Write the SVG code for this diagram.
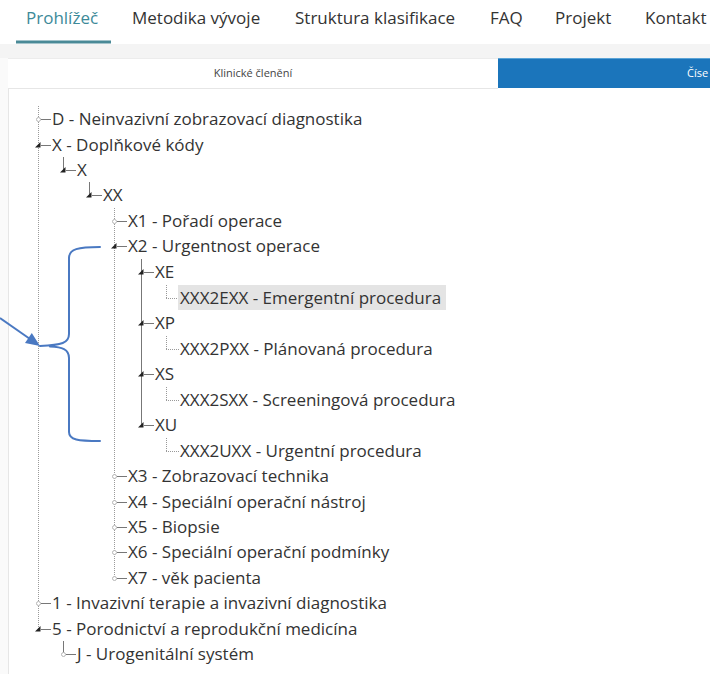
<svg xmlns="http://www.w3.org/2000/svg" width="710" height="674" viewBox="0 0 710 674">
<style>
.nav{font-family:"Open Sans","Liberation Sans",sans-serif;font-size:17px;fill:#333}
.tab{font-family:"Open Sans","Liberation Sans",sans-serif;font-size:11px;fill:#444}
.t{font-family:"Open Sans","Liberation Sans",sans-serif;font-size:17px;fill:#333}
.guide{stroke:#9a9a9a;stroke-width:1;stroke-dasharray:1 1;fill:none}
.solid{stroke:#777;stroke-width:1;fill:none}
.h{stroke:#777;stroke-width:1}
.hd{stroke:#999;stroke-width:1;stroke-dasharray:1 1}
.leaf{fill:#fff;stroke:#b5b5b5;stroke-width:1}
.tri{fill:#222}
.brace{stroke:#4a79c2;stroke-width:2;fill:none;stroke-linecap:round}
</style>
<rect width="710" height="674" fill="#fff"/>
<g id="nav">
<text class="nav" x="26" y="24" style="fill:#3d8a99">Prohlížeč</text>
<text class="nav" x="132" y="24">Metodika vývoje</text>
<text class="nav" x="295" y="24">Struktura klasifikace</text>
<text class="nav" x="490" y="24">FAQ</text>
<text class="nav" x="555" y="24">Projekt</text>
<text class="nav" x="645" y="24">Kontakt</text>
<rect x="16" y="40.5" width="95" height="3" fill="#4a8a97"/>
</g>
<rect x="0" y="44" width="710" height="14" fill="#f4f4f4"/>
<rect x="0" y="58" width="8" height="616" fill="#fafafa"/>
<line x1="8.5" y1="58" x2="8.5" y2="674" stroke="#e6e6e6"/>
<g id="tabs">
<rect x="8" y="58" width="490" height="30" fill="#fff"/>
<line x1="8" y1="58.5" x2="498" y2="58.5" stroke="#ececec"/>
<line x1="8" y1="88.5" x2="498" y2="88.5" stroke="#e6e6e6"/>
<text class="tab" x="253" y="77" text-anchor="middle">Klinické členění</text>
<rect x="498" y="58" width="212" height="30" fill="#1b75bb"/>
<line x1="498" y1="58.5" x2="710" y2="58.5" stroke="#5aa3d6"/>
<text class="tab" x="687" y="77" style="fill:#fff">Číse</text>
</g>
<g id="connectors">
<line class="guide" x1="38.5" y1="106" x2="38.5" y2="629"/>
<line class="guide" x1="114.5" y1="208" x2="114.5" y2="578"/>
<line class="solid" x1="141.5" y1="259" x2="141.5" y2="425"/>
<line class="solid" x1="63.5" y1="157" x2="63.5" y2="170"/>
<line class="solid" x1="89.5" y1="182" x2="89.5" y2="195"/>
<line class="solid" x1="63.5" y1="641" x2="63.5" y2="654"/>
<line class="hd" x1="166.5" y1="285" x2="166.5" y2="298"/>
<line class="hd" x1="166.5" y1="336" x2="166.5" y2="349"/>
<line class="hd" x1="166.5" y1="387" x2="166.5" y2="400"/>
<line class="hd" x1="166.5" y1="438" x2="166.5" y2="451"/>
<line class="hd" x1="166" y1="298.5" x2="179" y2="298.5"/>
<line class="hd" x1="166" y1="349.5" x2="179" y2="349.5"/>
<line class="hd" x1="166" y1="400.5" x2="179" y2="400.5"/>
<line class="hd" x1="166" y1="451.5" x2="179" y2="451.5"/>
<g class="h">
<line x1="41" y1="119.5" x2="51" y2="119.5"/>
<line x1="41" y1="145.5" x2="51" y2="145.5"/>
<line x1="66" y1="170.5" x2="76" y2="170.5"/>
<line x1="92" y1="195.5" x2="102" y2="195.5"/>
<line x1="117" y1="221.5" x2="127" y2="221.5"/>
<line x1="117" y1="246.5" x2="127" y2="246.5"/>
<line x1="144" y1="272.5" x2="154" y2="272.5"/>
<line x1="144" y1="323.5" x2="154" y2="323.5"/>
<line x1="144" y1="374.5" x2="154" y2="374.5"/>
<line x1="144" y1="425.5" x2="154" y2="425.5"/>
<line x1="117" y1="476.5" x2="127" y2="476.5"/>
<line x1="117" y1="502.5" x2="127" y2="502.5"/>
<line x1="117" y1="527.5" x2="127" y2="527.5"/>
<line x1="117" y1="552.5" x2="127" y2="552.5"/>
<line x1="117" y1="578.5" x2="127" y2="578.5"/>
<line x1="41" y1="603.5" x2="51" y2="603.5"/>
<line x1="41" y1="629.5" x2="51" y2="629.5"/>
<line x1="66" y1="654.5" x2="76" y2="654.5"/>
</g>
<g class="leaf">
<circle cx="38.5" cy="119.5" r="2"/>
<circle cx="114.5" cy="221.5" r="2"/>
<circle cx="114.5" cy="476.5" r="2"/>
<circle cx="114.5" cy="502.5" r="2"/>
<circle cx="114.5" cy="527.5" r="2"/>
<circle cx="114.5" cy="552.5" r="2"/>
<circle cx="114.5" cy="578.5" r="2"/>
<circle cx="38.5" cy="603.5" r="2"/>
<circle cx="63.5" cy="654.5" r="2"/>
</g>
<g class="tri">
<polygon points="35,147.5 40.5,147.5 40.5,142"/>
<polygon points="60,172.5 65.5,172.5 65.5,167"/>
<polygon points="86,197.5 91.5,197.5 91.5,192"/>
<polygon points="111,248.5 116.5,248.5 116.5,243"/>
<polygon points="138,274.5 143.5,274.5 143.5,269"/>
<polygon points="138,325.5 143.5,325.5 143.5,320"/>
<polygon points="138,376.5 143.5,376.5 143.5,371"/>
<polygon points="138,427.5 143.5,427.5 143.5,422"/>
<polygon points="35,631.5 40.5,631.5 40.5,626"/>
</g>
</g>
<rect x="178" y="285" width="268" height="25" fill="#e4e4e4"/>
<g id="tree">
<text class="t" x="52" y="125">D - Neinvazivní zobrazovací diagnostika</text>
<text class="t" x="52" y="151">X - Doplňkové kódy</text>
<text class="t" x="77" y="176">X</text>
<text class="t" x="103" y="201">XX</text>
<text class="t" x="128" y="227">X1 - Pořadí operace</text>
<text class="t" x="128" y="252">X2 - Urgentnost operace</text>
<text class="t" x="155" y="278">XE</text>
<text class="t" x="180" y="304">XXX2EXX - Emergentní procedura</text>
<text class="t" x="155" y="329">XP</text>
<text class="t" x="180" y="355">XXX2PXX - Plánovaná procedura</text>
<text class="t" x="155" y="380">XS</text>
<text class="t" x="180" y="406">XXX2SXX - Screeningová procedura</text>
<text class="t" x="155" y="431">XU</text>
<text class="t" x="180" y="457">XXX2UXX - Urgentní procedura</text>
<text class="t" x="128" y="482">X3 - Zobrazovací technika</text>
<text class="t" x="128" y="508">X4 - Speciální operační nástroj</text>
<text class="t" x="128" y="533">X5 - Biopsie</text>
<text class="t" x="128" y="558">X6 - Speciální operační podmínky</text>
<text class="t" x="128" y="584">X7 - věk pacienta</text>
<text class="t" x="52" y="609">1 - Invazivní terapie a invazivní diagnostika</text>
<text class="t" x="52" y="635">5 - Porodnictví a reprodukční medicína</text>
<text class="t" x="77" y="660">J - Urogenitální systém</text>
</g>
<g id="annotation">
<path class="brace" d="M100,247 C78,247 69,249 69,258 L69,334 C69,343 62,345 40,346 M50,346.5 C62,347 69,349 69,358 L69,432 C69,440 78,441 100,441"/>
<line x1="0" y1="318" x2="30" y2="339" stroke="#4a79c2" stroke-width="2"/>
<polygon points="40,346 25,343 31.8,333" fill="#4a79c2"/>
</g>
</svg>
